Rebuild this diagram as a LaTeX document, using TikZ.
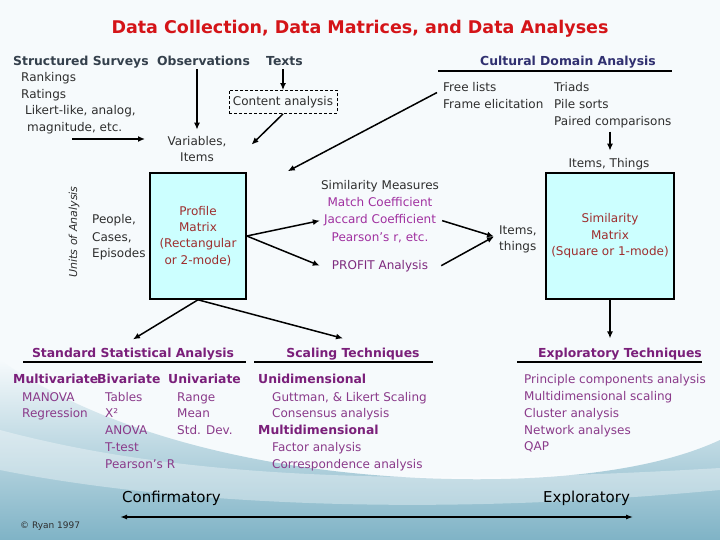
\documentclass[tikz,border=0pt]{standalone}
\usepackage{fontspec}
\setmainfont{DejaVu Sans}
\usetikzlibrary{arrows.meta}
\definecolor{bgtop}{HTML}{F6FAFC}
\definecolor{bgmid}{HTML}{D5E8EF}
\definecolor{bgbot}{HTML}{7FB3C6}
\definecolor{dgray}{HTML}{2E2E2E}
\definecolor{hdr}{HTML}{34404C}
\definecolor{navy}{HTML}{303070}
\definecolor{ttl}{HTML}{D41418}
\definecolor{pur}{HTML}{7A1F7A}
\definecolor{lpur}{HTML}{8A3A8A}
\definecolor{mag}{HTML}{A030A0}
\definecolor{dpur}{HTML}{7E2A7E}
\definecolor{brd}{HTML}{9E2E2E}
\definecolor{cyanbox}{HTML}{CCFFFF}
\begin{document}
\begin{tikzpicture}[x=1pt,y=-1pt,
 tx/.style={font=\fontsize{12}{14}\selectfont, text=dgray, inner sep=0pt, anchor=base west},
 hd/.style={font=\fontsize{12.4}{14}\selectfont\bfseries, text=hdr, inner sep=0pt, anchor=base west},
 ph/.style={font=\fontsize{12.4}{14}\selectfont\bfseries, text=pur, inner sep=0pt, anchor=base},
 pb/.style={font=\fontsize{12.4}{14}\selectfont\bfseries, text=pur, inner sep=0pt, anchor=base west},
 pl/.style={tx, text=lpur},
 ms/.style={font=\fontsize{12}{14}\selectfont, text=mag, inner sep=0pt, anchor=base},
 mat/.style={draw=black, line width=1.6pt, fill=cyanbox, align=center, text=brd, font=\fontsize{12}{16.4}\selectfont, inner sep=0pt},
 arr/.style={line width=1.5pt, -{Latex[length=7pt,width=6pt]}},
 dbl/.style={line width=1.6pt, {Latex[length=7pt,width=5pt]}-{Latex[length=7pt,width=5pt]}},
 uln/.style={line width=1.6pt},
 big/.style={font=\fontsize{15}{18}\selectfont, text=black, inner sep=0pt, anchor=base west}
]
\useasboundingbox (0,0) rectangle (720,540);
% background
\fill[bgtop] (0,0) rectangle (720,540);
\shade[top color=bgtop, bottom color=bgbot]
  (0,360) .. controls (100,430) and (250,470) .. (420,478)
  .. controls (560,484) and (660,468) .. (720,440) -- (720,540) -- (0,540) -- cycle;
\fill[white, opacity=0.35]
  (0,430) .. controls (150,470) and (350,490) .. (720,468)
  -- (720,490) .. controls (400,520) and (150,500) .. (0,470) -- cycle;

% title
\node[font=\fontsize{17.5}{20}\selectfont\bfseries, text=ttl, inner sep=0pt, anchor=base] (title) at (360,34) {Data Collection, Data Matrices, and Data Analyses};

% data collection
\node[hd] (ss) at (13,66) {Structured Surveys};
\node[hd] (obs) at (157,66) {Observations};
\node[hd] (txt) at (266,66) {Texts};
\node[tx] (r1) at (21,82) {Rankings};
\node[tx] (r2) at (21,98.5) {Ratings};
\node[tx] (r3) at (25,115) {Likert-like, analog,};
\node[tx] (r4) at (27,132) {magnitude, etc.};
\node[draw, dash pattern=on 3pt off 2pt, line width=0.8pt, minimum width=108pt, minimum height=23pt, inner sep=0pt, font=\fontsize{12}{14}\selectfont, text=dgray] (ca) at (283,102) {Content analysis};
\node[tx, anchor=base] (v1) at (197,146) {Variables,};
\node[tx, anchor=base] (v2) at (197,162) {Items};

\draw[arr, shorten >=7pt] (obs.south -| v1.north) ++(0,3) -- (v1.north);
\draw[arr] (ca.north |- txt.south) ++(0,3) -- (ca.north);
\draw[arr] (ca.south) -- ([xshift=25pt,yshift=-2.5pt]v1.east);
\draw[arr] (r4.base west) ++(45,7) -- ++(73,0);

% cultural domain analysis
\node[hd, anchor=base, text=navy] (cda) at (568,66) {Cultural Domain Analysis};
\draw[uln] (cda.base) ++(-130,5) -- ++(234,0);
\node[tx] (fl1) at (443,92) {Free lists};
\node[tx] (fl2) at (443,109) {Frame elicitation};
\node[tx] (tr1) at (554,92) {Triads};
\node[tx] (tr2) at (554,109) {Pile sorts};
\node[tx] (tr3) at (554,126) {Paired comparisons};
\node[tx, anchor=base] (itT) at (609,168) {Items, Things};

% matrices
\node[mat, minimum width=96pt, minimum height=126pt] (pm) at (198,236) {Profile\\Matrix\\(Rectangular\\or 2-mode)};
\node[mat, minimum width=128pt, minimum height=126pt] (sm) at (610,236) {Similarity\\Matrix\\(Square or 1-mode)};
\draw[arr, shorten >=8pt] (tr3.south -| sm.north) ++(0,3) -- (sm.north |- itT.north);
\draw[arr] (fl1.west) ++(-6,5) -- ([xshift=41pt,yshift=1pt]pm.north east);

\node[tx] (pp1) at (92,224) {People,};
\node[tx] (pp2) at (92,241) {Cases,};
\node[tx] (pp3) at (92,257) {Episodes};
\node[font=\fontsize{11}{13}\selectfont\itshape, text=dgray, rotate=90, inner sep=0pt] (uoa) at (74,232) {Units of Analysis};

% similarity measures
\node[tx, anchor=base] (smm) at (380,190) {Similarity Measures};
\node[ms] (mc) at (380,207) {Match Coefficient};
\node[ms] (jc) at (380,224) {Jaccard Coefficient};
\node[ms] (prr) at (380,241) {Pearson’s r, etc.};
\node[ms, text=dpur] (pf) at (380,269) {PROFIT Analysis};
\node[tx] (it1) at (499,234) {Items,};
\node[tx] (it2) at (499,250) {things};

\draw[arr] (pm.east) -- ([xshift=-4pt]jc.west);
\draw[arr] (pm.east) -- ([xshift=-12pt]pf.west);
\draw[arr] ([xshift=6pt]jc.east) -- ([xshift=-5pt,yshift=-1pt]it1.south west);
\draw[arr] ([xshift=13pt]pf.east) -- ([xshift=-5pt,yshift=-1pt]it1.south west);

% analyses headers
\node[ph] (ssa) at (133,357) {Standard Statistical Analysis};
\node[ph] (sct) at (353,357) {Scaling Techniques};
\node[ph] (ex) at (620,357) {Exploratory Techniques};
\draw[uln] (ssa.base) ++(-110,5) -- ++(223,0);
\draw[uln] (sct.base) ++(-99,5) -- ++(179,0);
\draw[uln] (ex.base) ++(-103,5) -- ++(185,0);

\draw[arr] (pm.south) -- ([yshift=8pt]ssa.north);
\draw[arr] (pm.south) -- ([xshift=-10pt,yshift=9pt]sct.north);
\draw[arr, shorten >=9pt] (sm.south) -- (sm.south |- ex.north);

% standard statistical analysis
\node[pb] (mv) at (13,383) {Multivariate};
\node[pb] (bv) at (97,383) {Bivariate};
\node[pb] (uv) at (168,383) {Univariate};
\node[pl] (s1) at (22,401) {MANOVA};
\node[pl] (s2) at (22,417) {Regression};
\node[pl] (b1) at (105,401) {Tables};
\node[pl] (b2) at (105,417) {X²};
\node[pl] (b3) at (105,434) {ANOVA};
\node[pl] (b4) at (105,451) {T-test};
\node[pl] (b5) at (105,468) {Pearson’s R};
\node[pl] (u1) at (177,401) {Range};
\node[pl] (u2) at (177,417) {Mean};
\node[pl] (u3) at (177,434) {Std. Dev.};

% scaling
\node[pb] (ud) at (258,383) {Unidimensional};
\node[pl] (g1) at (272,401) {Guttman, \& Likert Scaling};
\node[pl] (g2) at (272,417) {Consensus analysis};
\node[pb] (md) at (258,434) {Multidimensional};
\node[pl] (g3) at (272,451) {Factor analysis};
\node[pl] (g4) at (272,468) {Correspondence analysis};

% exploratory
\node[pl] (e1) at (524,383) {Principle components analysis};
\node[pl] (e2) at (524,400) {Multidimensional scaling};
\node[pl] (e3) at (524,417) {Cluster analysis};
\node[pl] (e4) at (524,434) {Network analyses};
\node[pl] (e5) at (524,450) {QAP};

% bottom
\node[big] (conf) at (122,502) {Confirmatory};
\node[big] (expl) at (543,502) {Exploratory};
\draw[dbl] ([xshift=-2pt,yshift=-15pt]conf.base west) -- ([xshift=3pt,yshift=-15pt]expl.base east);
\node[font=\fontsize{9}{10}\selectfont, text=dgray, inner sep=0pt, anchor=base west] (cr) at (20,528) {© Ryan 1997};
\end{tikzpicture}
\end{document}
